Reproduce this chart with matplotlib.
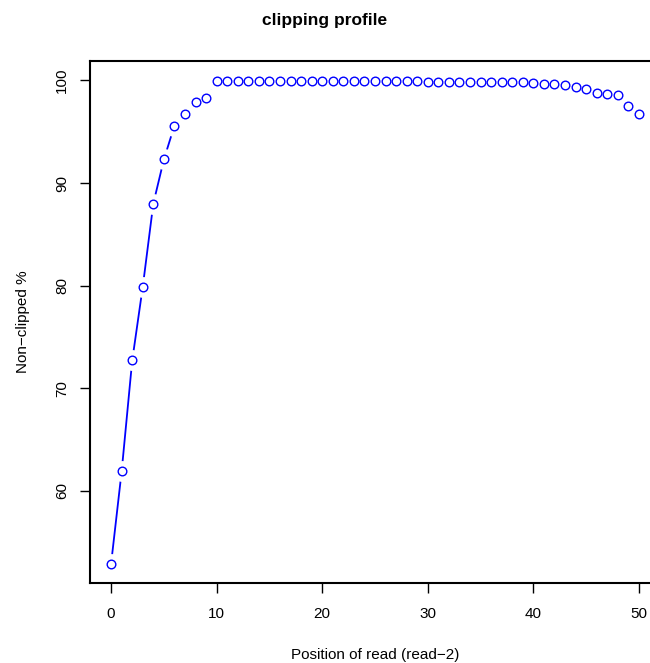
import numpy as np
import matplotlib
matplotlib.use("Agg")
import matplotlib.pyplot as plt

plt.rcParams['font.family'] = ['Liberation Sans', 'DejaVu Sans']

# position in read and percentage of reads not clipped there
pos = list(range(51))
nonclipped = [52.9, 61.9, 72.7, 79.9, 88.0, 92.3, 95.6, 96.7, 97.9, 98.3,
              99.95, 99.95, 99.95, 99.95, 99.95, 99.95, 99.95, 99.94, 99.94, 99.94,
              99.93, 99.93, 99.93, 99.93, 99.92, 99.92, 99.92, 99.91, 99.91, 99.91,
              99.9, 99.9, 99.89, 99.89, 99.88, 99.88, 99.87, 99.86, 99.85, 99.82,
              99.76, 99.7, 99.65, 99.55, 99.4, 99.15, 98.8, 98.7, 98.6, 97.5,
              96.75]

xticks = [0, 10, 20, 30, 40, 50]
yticks = [60, 70, 80, 90, 100]

fig = plt.figure(figsize=(6.5, 6.63), dpi=100)
# R style box, the right side runs past the image edge
ax = fig.add_axes([90/650, (663-583)/663, 570/650, 522/663])

blue = '#0000ff'
ax.plot(pos, nonclipped, '-', color=blue, lw=1.3, zorder=1)
# white halos to get the gaps of type="b"
ax.plot(pos, nonclipped, 'o', ms=15, mfc='white', mec='none', zorder=2)
ax.plot(pos, nonclipped, 'o', ms=6.2, mfc='white', mec=blue, mew=1.0, zorder=3)

ax.set_xlim(-2, 52)
ax.set_ylim(51.0, 101.9)
ax.set_xticks(xticks)
ax.set_yticks(yticks)
ax.set_yticklabels([str(v) for v in yticks], rotation=90, va='center')
ax.tick_params(labelsize=11, length=7, width=1)
ax.tick_params(axis='x', pad=10)
ax.tick_params(axis='y', pad=8)

for s in ax.spines.values():
    s.set_linewidth(1.5)

ax.set_xlabel('Position of read (read\u22122)', fontsize=11, labelpad=20)
ax.set_ylabel('Non\u2212clipped %', fontsize=11, labelpad=18)
fig.text(0.5, 1 - 21/663, 'clipping profile', ha='center', va='center',
         fontsize=12.5, fontweight='bold')

fig.savefig('out.png', dpi=100)
